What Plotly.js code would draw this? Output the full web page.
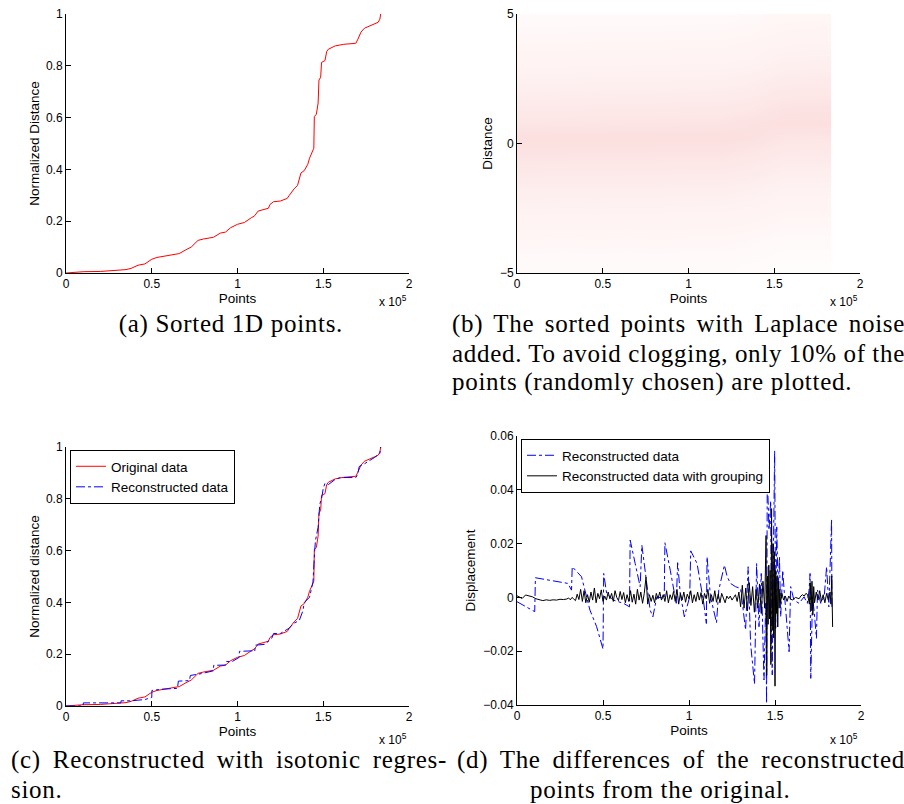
<!DOCTYPE html>
<html>
<head>
<meta charset="utf-8">
<script src="https://cdn.plot.ly/plotly-3.0.1.min.js"></script>
<style>
html,body{margin:0;padding:0;background:#fff;}
#chart{width:904px;height:804px;}
</style>
</head>
<body>
<div id="chart"></div>
<script>
// ---------- DATA ----------
// x values are in units of 10^5 points
const xTickVals = [0, 0.5, 1, 1.5, 2];
const xTickText = ['0', '0.5', '1', '1.5', '2'];

// (a)/(c) sorted normalized distance
const sortedX = [0, 0.05, 0.1, 0.2, 0.3, 0.35, 0.38, 0.42, 0.46, 0.5,
  0.53, 0.6, 0.63, 0.66, 0.7, 0.73, 0.77, 0.8, 0.86, 0.9,
  0.93, 0.96, 1.0, 1.04, 1.08, 1.1, 1.12, 1.15, 1.18, 1.19,
  1.21, 1.25, 1.29, 1.3, 1.33, 1.35, 1.37, 1.39, 1.41, 1.42,
  1.445, 1.448, 1.46, 1.47, 1.475, 1.485, 1.49, 1.51, 1.52, 1.53,
  1.57, 1.62, 1.69, 1.7, 1.72, 1.74, 1.8, 1.82, 1.83, 1.835];
const sortedY = [0, 0.003, 0.005, 0.006, 0.009, 0.013, 0.018, 0.03, 0.035, 0.053,
  0.06, 0.067, 0.072, 0.075, 0.09, 0.1, 0.126, 0.131, 0.138, 0.154,
  0.158, 0.175, 0.188, 0.195, 0.213, 0.221, 0.239, 0.245, 0.25, 0.265,
  0.275, 0.278, 0.288, 0.298, 0.325, 0.338, 0.386, 0.396, 0.42, 0.443,
  0.482, 0.604, 0.613, 0.656, 0.745, 0.756, 0.813, 0.82, 0.855, 0.864,
  0.877, 0.883, 0.887, 0.9, 0.93, 0.945, 0.96, 0.968, 0.98, 1.0];

// (c) reconstructed with isotonic regression (step-like)
const reconX = [0, 0.10, 0.101, 0.32, 0.321, 0.38, 0.46, 0.50, 0.501, 0.56,
  0.65, 0.655, 0.72, 0.725, 0.79, 0.86, 0.861, 0.93, 0.935, 0.97,
  1.01, 1.011, 1.09, 1.10, 1.105, 1.16, 1.2, 1.21, 1.25, 1.3,
  1.33, 1.36, 1.38, 1.39, 1.42, 1.44, 1.45, 1.455, 1.47, 1.48,
  1.49, 1.5, 1.51, 1.53, 1.57, 1.6, 1.69, 1.70, 1.71, 1.74,
  1.8, 1.83, 1.835];
const reconY = [0.000, 0.000, 0.012, 0.012, 0.020, 0.020, 0.025, 0.033, 0.060, 0.065,
  0.068, 0.096, 0.098, 0.118, 0.125, 0.136, 0.157, 0.158, 0.172, 0.172,
  0.188, 0.211, 0.213, 0.210, 0.235, 0.238, 0.262, 0.280, 0.280, 0.300,
  0.320, 0.330, 0.365, 0.400, 0.420, 0.478, 0.600, 0.640, 0.690, 0.780,
  0.800, 0.840, 0.860, 0.855, 0.875, 0.882, 0.882, 0.893, 0.925, 0.935,
  0.960, 0.975, 1.000];

// (b) density of noisy points (10% sample), binned
const noiseXCenters = [0.0915, 0.2745, 0.4575, 0.6405, 0.8235, 1.0065, 1.1895, 1.3725, 1.5555, 1.7385];
const noiseYCenters = [-4.75, -4.25, -3.75, -3.25, -2.75, -2.25, -1.75, -1.25, -0.75, -0.25,
  0.25, 0.75, 1.25, 1.75, 2.25, 2.75, 3.25, 3.75, 4.25, 4.75];
const noiseDensity = [
  [0.05, 0.045, 0.05, 0.045, 0.05, 0.045, 0.05, 0.04, 0.03, 0.03],
  [0.065, 0.06, 0.065, 0.06, 0.065, 0.06, 0.06, 0.055, 0.04, 0.04],
  [0.09, 0.085, 0.09, 0.085, 0.09, 0.085, 0.085, 0.07, 0.055, 0.055],
  [0.12, 0.12, 0.12, 0.115, 0.12, 0.115, 0.115, 0.10, 0.075, 0.075],
  [0.165, 0.16, 0.165, 0.16, 0.16, 0.155, 0.155, 0.135, 0.10, 0.10],
  [0.23, 0.22, 0.225, 0.22, 0.22, 0.215, 0.21, 0.185, 0.14, 0.14],
  [0.31, 0.30, 0.31, 0.30, 0.30, 0.29, 0.29, 0.25, 0.19, 0.19],
  [0.43, 0.42, 0.42, 0.41, 0.41, 0.40, 0.40, 0.35, 0.26, 0.26],
  [0.59, 0.58, 0.57, 0.57, 0.56, 0.55, 0.55, 0.47, 0.36, 0.36],
  [0.80, 0.79, 0.78, 0.78, 0.77, 0.76, 0.76, 0.65, 0.49, 0.48],
  [0.93, 0.94, 0.94, 0.95, 0.95, 0.95, 0.96, 0.88, 0.67, 0.65],
  [0.66, 0.67, 0.68, 0.69, 0.70, 0.71, 0.72, 0.83, 0.91, 0.90],
  [0.48, 0.49, 0.50, 0.50, 0.51, 0.52, 0.53, 0.61, 0.80, 0.82],
  [0.35, 0.36, 0.36, 0.37, 0.37, 0.38, 0.39, 0.44, 0.59, 0.61],
  [0.26, 0.26, 0.27, 0.27, 0.27, 0.28, 0.28, 0.32, 0.43, 0.45],
  [0.19, 0.19, 0.20, 0.20, 0.20, 0.20, 0.21, 0.24, 0.31, 0.33],
  [0.14, 0.14, 0.14, 0.14, 0.145, 0.15, 0.15, 0.17, 0.23, 0.24],
  [0.10, 0.10, 0.105, 0.105, 0.105, 0.11, 0.11, 0.13, 0.17, 0.18],
  [0.075, 0.075, 0.077, 0.077, 0.078, 0.08, 0.08, 0.093, 0.12, 0.13],
  [0.055, 0.055, 0.056, 0.056, 0.057, 0.058, 0.06, 0.068, 0.09, 0.095]
];

// (d) displacement of reconstructed points
const blueX = [0, 0.103, 0.107, 0.296, 0.317, 0.321, 0.375, 0.424, 0.463, 0.5,
  0.504, 0.521, 0.56, 0.619, 0.654, 0.658, 0.687, 0.716, 0.726, 0.745,
  0.774, 0.79, 0.813, 0.856, 0.86, 0.891, 0.911, 0.926, 0.934, 0.949,
  0.973, 1.004, 1.01, 1.047, 1.086, 1.101, 1.105, 1.125, 1.16, 1.173,
  1.206, 1.222, 1.241, 1.27, 1.3, 1.319, 1.329, 1.344, 1.358, 1.381,
  1.393, 1.407, 1.42, 1.436, 1.446, 1.451, 1.455, 1.465, 1.475, 1.479,
  1.484, 1.49, 1.498, 1.504, 1.51, 1.518, 1.526, 1.533, 1.545, 1.553,
  1.582, 1.591, 1.61, 1.64, 1.669, 1.688, 1.698, 1.704, 1.708, 1.718,
  1.727, 1.741, 1.747, 1.766, 1.786, 1.8, 1.813, 1.829, 1.831];
const blueY = [-0.0016, -0.0053, 0.0073, 0.0052, 0.0027, 0.0114, 0.0077, -0.0047, -0.0109, -0.0192,
  0.0089, 0.0015, -0.0010, -0.0022, -0.0035, 0.0213, 0.0126, 0.0040, 0.0194, 0.0101,
  -0.0047, -0.0072, 0.0002, -0.0004, 0.0203, 0.0101, 0.0027, -0.0022, 0.0129, 0.0015,
  -0.0072, 0.0002, 0.0173, 0.0126, -0.0022, -0.0097, 0.0151, 0.0002, -0.0094, 0.0027,
  0.0120, 0.0077, 0.0052, 0.0040, 0.0033, -0.0072, -0.0121, 0.0114, -0.0171, -0.0322,
  0.0126, -0.0109, 0.0089, -0.0307, -0.0022, -0.0394, 0.0464, 0.0250, 0.0359, -0.0120,
  -0.0288, 0.0127, 0.0545, -0.0120, 0.0262, 0.0028, 0.0151, -0.0072, 0.0101, 0.0027,
  -0.0202, 0.0040, -0.0010, -0.0022, 0.0002, -0.0022, 0.0027, 0.0089, -0.0301, 0.0002,
  -0.0047, -0.0152, 0.0027, -0.0022, 0.0002, 0.0114, -0.0035, 0.0290, -0.0047];

const blackX = [0, 0.02, 0.03, 0.05, 0.07, 0.09, 0.11, 0.13, 0.15, 0.17,
  0.19, 0.21, 0.23, 0.25, 0.27, 0.29, 0.30, 0.31, 0.32, 0.33,
  0.34, 0.35, 0.36, 0.37, 0.38, 0.39, 0.40, 0.41, 0.42, 0.43,
  0.44, 0.45, 0.46, 0.47, 0.48, 0.49, 0.50, 0.51, 0.52, 0.53,
  0.54, 0.55, 0.56, 0.57, 0.58, 0.59, 0.60, 0.61, 0.62, 0.63,
  0.64, 0.65, 0.66, 0.67, 0.68, 0.69, 0.70, 0.71, 0.72, 0.73,
  0.74, 0.75, 0.76, 0.77, 0.78, 0.79, 0.80, 0.81, 0.82, 0.83,
  0.84, 0.85, 0.86, 0.87, 0.88, 0.89, 0.90, 0.91, 0.92, 0.93,
  0.94, 0.95, 0.96, 0.97, 0.98, 0.99, 1.00, 1.01, 1.02, 1.03,
  1.04, 1.05, 1.06, 1.07, 1.08, 1.09, 1.10, 1.11, 1.12, 1.13,
  1.14, 1.15, 1.16, 1.17, 1.18, 1.19, 1.20, 1.21, 1.22, 1.23,
  1.24, 1.25, 1.26, 1.27, 1.28, 1.29, 1.30, 1.31, 1.32, 1.33,
  1.34, 1.35, 1.36, 1.37, 1.38, 1.39, 1.40, 1.41, 1.42, 1.43,
  1.440, 1.444, 1.448, 1.452, 1.456, 1.460, 1.464, 1.468, 1.472, 1.476,
  1.480, 1.484, 1.488, 1.492, 1.496, 1.500, 1.504, 1.508, 1.512, 1.516,
  1.520, 1.524, 1.528, 1.532, 1.54, 1.55, 1.56, 1.57, 1.58, 1.59,
  1.60, 1.62, 1.64, 1.65, 1.66, 1.67, 1.68, 1.69, 1.70, 1.705,
  1.71, 1.715, 1.72, 1.725, 1.73, 1.74, 1.75, 1.76, 1.77, 1.78,
  1.79, 1.80, 1.81, 1.82, 1.825, 1.83, 1.835];
const blackY = [0.0006, 0.0000, -0.0004, 0.0009, 0.0006, 0.0002, -0.0005, -0.0008, -0.0012, -0.0009,
  -0.0011, -0.0009, -0.0010, -0.0007, -0.0008, -0.0006, -0.0002, -0.0009, 0.0000, -0.0006,
  -0.0012, 0.0012, -0.0008, 0.0030, -0.0015, 0.0025, -0.0020, 0.0010, -0.0018, 0.0020,
  -0.0010, 0.0035, -0.0020, 0.0015, -0.0005, 0.0028, -0.0015, 0.0005, -0.0010, 0.0020,
  -0.0005, 0.0015, -0.0015, 0.0025, 0.0000, -0.0012, 0.0022, -0.0008, 0.0018, -0.0020,
  0.0010, -0.0015, 0.0025, -0.0018, 0.0012, -0.0025, 0.0030, -0.0010, 0.0020, -0.0022,
  0.0015, 0.0075, -0.0025, 0.0010, -0.0015, 0.0008, -0.0020, 0.0015, -0.0005, 0.0020,
  -0.0010, 0.0010, -0.0015, 0.0025, -0.0020, 0.0010, -0.0008, 0.0022, -0.0015, 0.0030,
  -0.0025, 0.0015, -0.0010, 0.0020, -0.0018, 0.0012, -0.0005, 0.0025, -0.0020, 0.0010,
  -0.0015, 0.0020, -0.0010, 0.0018, -0.0025, 0.0015, -0.0005, 0.0030, -0.0022, 0.0010,
  -0.0015, 0.0025, -0.0018, 0.0012, -0.0020, 0.0015, -0.0005, -0.0020, 0.0005, -0.0005,
  0.0005, -0.0010, 0.0000, 0.0010, -0.0015, 0.0020, -0.0035, 0.0045, -0.0040, 0.0035,
  -0.0050, 0.0055, -0.0030, 0.0040, -0.0055, 0.0030, -0.0040, 0.0050, -0.0060, 0.0060,
  -0.0040, 0.0060, 0.0230, -0.0290, 0.0080, -0.0100, 0.0120, -0.0080, 0.0100, -0.0250,
  0.0330, -0.0120, 0.0200, -0.0150, 0.0170, -0.0330, 0.0100, -0.0060, 0.0080, -0.0110,
  0.0060, -0.0040, 0.0030, -0.0020, 0.0015, -0.0010, 0.0005, -0.0015, 0.0005, -0.0005,
  -0.0010, 0.0000, -0.0005, 0.0005, 0.0010, 0.0005, 0.0015, 0.0010, -0.0025, 0.0055,
  -0.0050, 0.0060, -0.0065, 0.0040, -0.0020, 0.0020, -0.0010, 0.0025, -0.0015, 0.0010,
  -0.0020, 0.0015, -0.0010, 0.0020, -0.0025, 0.0080, -0.0110];

// ---------- LAYOUT HELPERS ----------
const W = 904, H = 804;
const fx = p => p / W;
const fy = p => 1 - p / H;

const tickFont = {family: 'Liberation Sans, Arial, sans-serif', size: 12, color: '#000'};
const titleFont = {family: 'Liberation Sans, Arial, sans-serif', size: 13.5, color: '#000'};
const capFont = {family: 'Liberation Serif, serif', size: 25, color: '#000'};

function axisBase(extra) {
  return Object.assign({
    showline: true, linecolor: '#000', linewidth: 1, mirror: false,
    ticks: 'inside', ticklen: 5, tickwidth: 1, tickcolor: '#000',
    showgrid: false, zeroline: false, tickfont: tickFont, fixedrange: true,
    automargin: false
  }, extra);
}
function xAx(domain, anchor) {
  return axisBase({domain: domain, anchor: anchor, range: [0, 2],
    tickmode: 'array', tickvals: xTickVals, ticktext: xTickText,
    title: {text: 'Points', font: titleFont, standoff: 2}});
}

const traces = [
  {x: sortedX, y: sortedY, type: 'scatter', mode: 'lines', xaxis: 'x', yaxis: 'y',
   line: {color: '#ff0000', width: 1}, showlegend: false},
  {x: noiseXCenters, y: noiseYCenters, z: noiseDensity, type: 'heatmap', xaxis: 'x2', yaxis: 'y2',
   colorscale: [[0, '#ffffff'], [0.1, '#fff5f5'], [0.4, '#fdeaea'], [1, '#fcdede']],
   zmin: 0, zmax: 1, zsmooth: 'best', showscale: false, hoverinfo: 'skip'},
  {x: sortedX, y: sortedY, type: 'scatter', mode: 'lines', xaxis: 'x3', yaxis: 'y3',
   name: 'Original data', line: {color: '#ff0000', width: 1}, legend: 'legend'},
  {x: reconX, y: reconY, type: 'scatter', mode: 'lines', xaxis: 'x3', yaxis: 'y3',
   name: 'Reconstructed data', line: {color: '#0000ff', width: 1, dash: 'dashdot'}, legend: 'legend'},
  {x: blueX, y: blueY, type: 'scatter', mode: 'lines', xaxis: 'x4', yaxis: 'y4',
   name: 'Reconstructed data', line: {color: '#0000ff', width: 1, dash: 'dashdot'}, legend: 'legend2'},
  {x: blackX, y: blackY, type: 'scatter', mode: 'lines', xaxis: 'x4', yaxis: 'y4',
   name: 'Reconstructed data with grouping', line: {color: '#000000', width: 1}, legend: 'legend2'}
];

const legendBase = {bgcolor: '#fff', bordercolor: '#000', borderwidth: 1,
  font: {family: 'Liberation Sans, Arial, sans-serif', size: 13.5, color: '#000'},
  xanchor: 'left', yanchor: 'top', tracegroupgap: 0, itemclick: false, itemdoubleclick: false};

// caption lines; "w" = justified width (px) when the line is justified
const capLines = [
  {t: '(a) Sorted 1D points.', x: 231, y: 324, a: 'center'},
  {t: '(b) The sorted points with Laplace noise', x: 450, y: 324, a: 'left', w: 453},
  {t: 'added. To avoid clogging, only 10% of the', x: 450, y: 353, a: 'left', w: 453},
  {t: 'points (randomly chosen) are plotted.', x: 450, y: 382, a: 'left'},
  {t: '(c) Reconstructed with isotonic regres-', x: 9, y: 760, a: 'left', w: 436},
  {t: 'sion.', x: 9, y: 789, a: 'left'},
  {t: '(d) The differences of the reconstructed', x: 455, y: 760, a: 'left', w: 448},
  {t: 'points from the original.', x: 528, y: 789, a: 'left'}
];

const annotations = capLines.map(c => ({
  text: c.t, xref: 'paper', yref: 'paper', x: fx(c.x), y: fy(c.y),
  xanchor: c.a, yanchor: 'middle', align: c.a, showarrow: false, font: capFont
}));
// "x 10^5" exponent labels
[[409, 301], [860, 301], [409, 739], [860, 739]].forEach(p => annotations.push({
  text: 'x 10<sup>5</sup>', xref: 'paper', yref: 'paper', x: fx(p[0]), y: fy(p[1]),
  xanchor: 'right', yanchor: 'middle', showarrow: false, font: tickFont
}));

const layout = {
  width: W, height: H, margin: {l: 0, r: 0, t: 0, b: 0},
  paper_bgcolor: '#fff', plot_bgcolor: 'rgba(0,0,0,0)', showlegend: true,
  xaxis: xAx([fx(66), fx(409)], 'y'),
  yaxis: axisBase({domain: [fy(273), fy(14)], anchor: 'x', range: [0, 1],
    tickmode: 'array', tickvals: [0, 0.2, 0.4, 0.6, 0.8, 1], ticktext: ['0', '0.2', '0.4', '0.6', '0.8', '1'],
    title: {text: 'Normalized Distance', font: titleFont, standoff: 3}}),
  xaxis2: xAx([fx(517), fx(860)], 'y2'),
  yaxis2: axisBase({domain: [fy(273), fy(14)], anchor: 'x2', range: [-5, 5],
    tickmode: 'array', tickvals: [-5, 0, 5], ticktext: ['\u22125', '0', '5'],
    title: {text: 'Distance', font: titleFont, standoff: 4}}),
  xaxis3: xAx([fx(66), fx(409)], 'y3'),
  yaxis3: axisBase({domain: [fy(706), fy(447)], anchor: 'x3', range: [0, 1],
    tickmode: 'array', tickvals: [0, 0.2, 0.4, 0.6, 0.8, 1], ticktext: ['0', '0.2', '0.4', '0.6', '0.8', '1'],
    title: {text: 'Normalized distance', font: titleFont, standoff: 3}}),
  xaxis4: xAx([fx(517), fx(861)], 'y4'),
  yaxis4: axisBase({domain: [fy(705), fy(436)], anchor: 'x4', range: [-0.04, 0.06],
    tickmode: 'array', tickvals: [-0.04, -0.02, 0, 0.02, 0.04, 0.06],
    ticktext: ['\u22120.04', '\u22120.02', '0', '0.02', '0.04', '0.06'],
    title: {text: 'Displacement', font: titleFont, standoff: 4}}),
  legend: Object.assign({}, legendBase, {x: fx(70), y: fy(450)}),
  legend2: Object.assign({}, legendBase, {x: fx(521), y: fy(439)}),
  annotations: annotations
};

Plotly.newPlot('chart', traces, layout, {displayModeBar: false, staticPlot: true}).then(gd => {
  // Computer-Modern-like spacing and LaTeX-style justification of caption lines
  const targets = {};
  const capSet = new Set(capLines.map(c => c.t));
  capLines.forEach(c => { if (c.w) targets[c.t] = c.w; });
  gd.querySelectorAll('text.annotation-text').forEach(el => {
    const txt = el.textContent;
    if (!capSet.has(txt)) return;
    el.style.letterSpacing = '0.7px';
    if (targets[txt]) {
      const len = el.getComputedTextLength();
      const n = (txt.match(/ /g) || []).length;
      if (n > 0) {
        el.style.wordSpacing = ((targets[txt] - len) / n).toFixed(2) + 'px';
      }
    }
  });
});
</script>
</body>
</html>
